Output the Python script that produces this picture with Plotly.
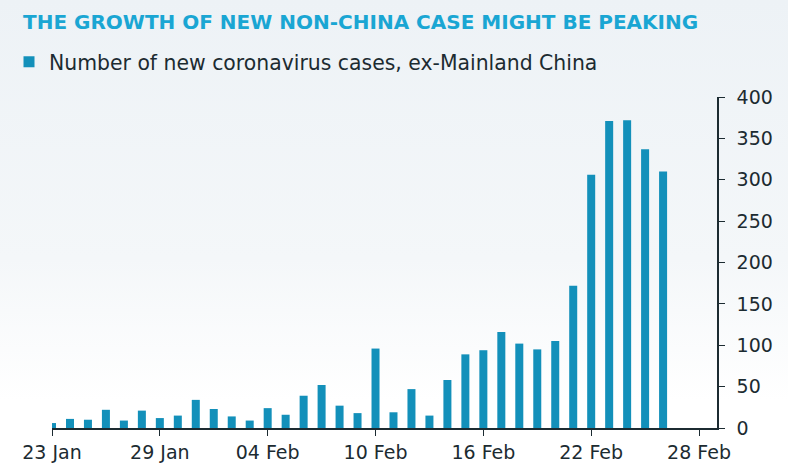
import base64
import plotly.graph_objects as go
import pandas as pd

dates = pd.date_range("2020-01-23", "2020-02-26", freq="D")
new_cases = [6, 11, 10, 22, 9, 21, 12, 15, 34, 23, 14, 9, 24, 16, 39, 52, 27, 18, 96,
             19, 47, 15, 58, 89, 94, 116, 102, 95, 105, 172, 306, 371, 372, 337, 310]
series_name = "Number of new coronavirus cases, ex-Mainland China"
title_text = "THE GROWTH OF NEW NON-CHINA CASE MIGHT BE PEAKING"
y_ticks = [0, 50, 100, 150, 200, 250, 300, 350, 400]

BAR = "#1390ba"
INK = "#1c2b31"
FONT = "DejaVu Sans"

svg = ('<svg xmlns="http://www.w3.org/2000/svg" width="788" height="471" preserveAspectRatio="none">'
       '<defs><linearGradient id="g" x1="0" y1="0" x2="0" y2="1">'
       '<stop offset="0" stop-color="#edf2f6"/><stop offset="0.55" stop-color="#f4f7f9"/>'
       '<stop offset="0.85" stop-color="#ffffff"/><stop offset="1" stop-color="#ffffff"/>'
       '</linearGradient></defs><rect width="788" height="471" fill="url(#g)"/></svg>')
bg_uri = "data:image/svg+xml;base64," + base64.b64encode(svg.encode()).decode()

PW, PH = 665, 331  # plot area size in px

fig = go.Figure()
fig.add_trace(go.Bar(x=dates, y=new_cases, marker=dict(color=BAR, line=dict(width=0)),
                     width=38.5e6, showlegend=False, name=series_name))
fig.add_trace(go.Scatter(x=[None], y=[None], mode="markers", name=series_name,
                         marker=dict(symbol="square", size=11, color=BAR)))

fig.update_layout(
    width=788, height=471,
    margin=dict(l=52, r=71, t=97, b=43, autoexpand=False),
    paper_bgcolor="rgba(0,0,0,0)", plot_bgcolor="rgba(0,0,0,0)",
    images=[dict(source=bg_uri, xref="paper", yref="paper", x=-52 / PW, y=1 + 97 / PH,
                 sizex=788 / PW, sizey=471 / PH, sizing="stretch", layer="below",
                 xanchor="left", yanchor="top")],
    title=dict(text="<b>" + title_text + "</b>", x=23 / 788, xanchor="left", y=1 - 22 / 471,
               yanchor="middle", font=dict(family=FONT, size=20, color="#1aa6d3")),
    legend=dict(x=-43 / PW, y=1 + 35 / PH, xanchor="left", yanchor="middle",
                font=dict(family=FONT, size=20.4, color=INK), bgcolor="rgba(0,0,0,0)",
                itemwidth=30),
    font=dict(family=FONT, color=INK),
    xaxis=dict(type="date", range=["2020-01-23", "2020-02-29"], tick0="2020-01-23",
               dtick=6 * 86400000, tickformat="%d %b", showgrid=False, zeroline=False,
               showline=True, linecolor=INK, linewidth=1.5, ticks="outside", ticklen=6,
               tickcolor=INK, automargin=False,
               tickfont=dict(family=FONT, size=19, color=INK)),
    yaxis=dict(range=[0, 400], tickvals=y_ticks, side="right", showgrid=False,
               zeroline=False, showline=True, linecolor=INK, linewidth=1.5,
               ticks="outside", ticklen=6, tickcolor=INK, automargin=False,
               ticklabelstandoff=8,
               tickfont=dict(family=FONT, size=19, color=INK)),
)

fig.write_html("out.html", config={"displayModeBar": False},
               post_script="document.body.style.margin='0px';"
                           "document.body.style.background='#ffffff';")
